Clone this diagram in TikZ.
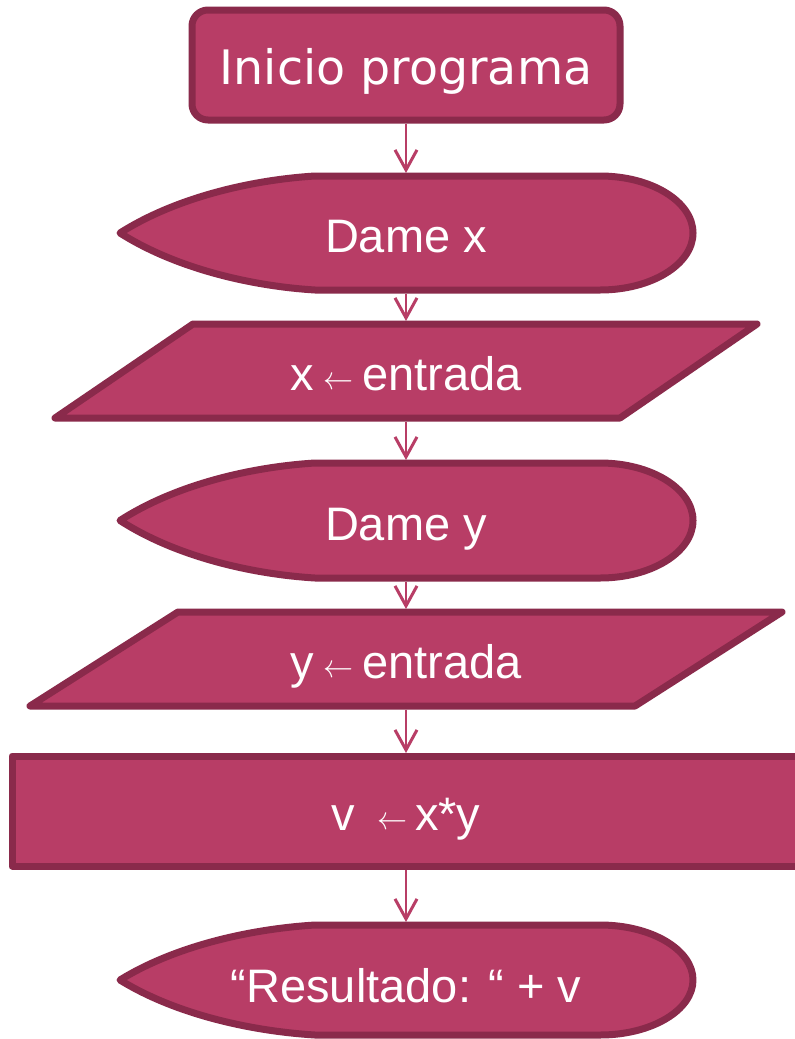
\documentclass[tikz,border=0pt]{standalone}
\usepackage{fontspec}
\setmainfont{Liberation Sans}
\newfontfamily\dejavu{DejaVu Sans}
\usetikzlibrary{arrows.meta}
\definecolor{fillc}{HTML}{B83D66}
\definecolor{edgec}{HTML}{8A2A4B}
\newcommand\smallarrow{\raisebox{1pt}{\resizebox{30pt}{12pt}{$\leftarrow$}}}
\begin{document}
\begin{tikzpicture}[x=1pt,y=-1pt,
  shapestyle/.style={fill=fillc, draw=edgec, line width=7pt, line join=round},
  lbl/.style={text=white, font=\fontsize{47}{47}\selectfont, anchor=base, inner sep=0pt},
  flow/.style={draw=fillc, line width=2pt, -{Straight Barb[length=20pt,width=22pt,line width=3pt]}}]
\useasboundingbox (0,0) rectangle (795,1039);
\fill[white] (0,0) rectangle (795,1039);

% start
\draw[shapestyle, rounded corners=16pt] (192,10) rectangle (620,120);
\node[lbl, font=\dejavu\fontsize{47.5}{47.5}\selectfont] (start) at (406,84) {Inicio programa};

% display 1
\draw[shapestyle] (315,176) -- (600,176) arc[start angle=90, end angle=-90, x radius=93pt, y radius=57pt]
  -- (315,290) .. controls (250,286) and (175,268) .. (120,233) .. controls (175,198) and (250,180) .. (315,176) -- cycle;
\node[lbl] (disp1) at (406,252) {Dame x};

% input 1
\draw[shapestyle] (193,324) -- (757,324) -- (620,418) -- (55,418) -- cycle;
\node[lbl] (in1) at (406,390) {x\hspace{9pt}\smallarrow\hspace{9pt}entrada};

% display 2
\draw[shapestyle] (315,463) -- (600,463) arc[start angle=90, end angle=-90, x radius=93pt, y radius=57.5pt]
  -- (315,578) .. controls (250,574) and (175,556) .. (120,520.5) .. controls (175,485) and (250,467) .. (315,463) -- cycle;
\node[lbl] (disp2) at (406,540) {Dame y};

% input 2
\draw[shapestyle] (178,612) -- (782,612) -- (635,706) -- (30,706) -- cycle;
\node[lbl] (in2) at (406,678) {y\hspace{9pt}\smallarrow\hspace{9pt}entrada};

% process
\draw[shapestyle] (12,756) rectangle (812,866);
\node[lbl] (proc) at (406,830) {v\hspace{22pt}\smallarrow\hspace{8pt}x*y};

% display 3
\draw[shapestyle] (315,925) -- (600,925) arc[start angle=90, end angle=-90, x radius=93pt, y radius=55pt]
  -- (315,1035) .. controls (250,1031) and (175,1014) .. (120,980) .. controls (175,946) and (250,929) .. (315,925) -- cycle;
\node[lbl] (disp3) at (406,1002) {“Resultado: “ + v};

% connector ends
\coordinate (startb) at (406,123.5);
\coordinate (disp1t) at (406,173);
\coordinate (disp1b) at (406,293.5);
\coordinate (in1t) at (406,321);
\coordinate (in1b) at (406,421.5);
\coordinate (disp2t) at (406,460);
\coordinate (disp2b) at (406,581.5);
\coordinate (in2t) at (406,609);
\coordinate (in2b) at (406,709.5);
\coordinate (proct) at (406,753);
\coordinate (procb) at (406,869.5);
\coordinate (disp3t) at (406,922);

\draw[flow] (startb) -- (disp1t);
\draw[flow] (disp1b) -- (in1t);
\draw[flow] (in1b) -- (disp2t);
\draw[flow] (disp2b) -- (in2t);
\draw[flow] (in2b) -- (proct);
\draw[flow] (procb) -- (disp3t);
\end{tikzpicture}
\end{document}
